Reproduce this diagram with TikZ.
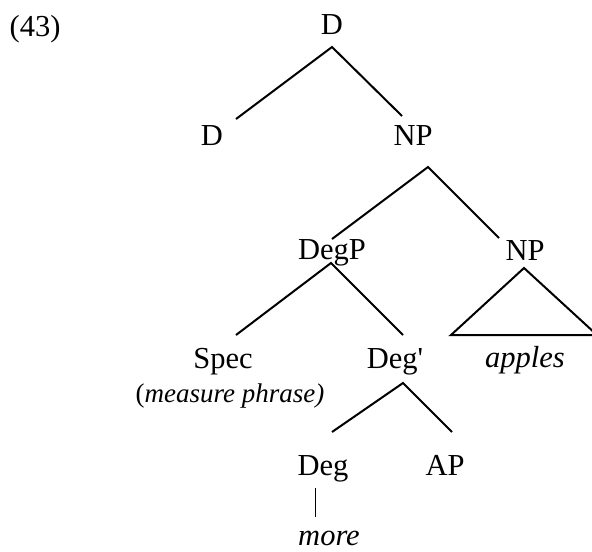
\documentclass[tikz,border=0pt]{standalone}
\usepackage{fontspec}
\setmainfont{Liberation Serif}
\tikzset{
  cat/.style={anchor=base,inner sep=0pt,font=\fontsize{15.25}{18}\selectfont},
  gloss/.style={cat,font=\fontsize{13.5}{16}\selectfont},
  branch/.style={line width=1pt,line join=miter},
}

\begin{document}
\begin{tikzpicture}[x=0.5pt,y=-0.5pt]
\useasboundingbox (0,0) rectangle (592,551);
\node[cat] (ex) at (35,37) {(43)};
% categories
\node[cat] (top) at (332,35) {D};
\node[cat] (dl) at (212,145) {D};
\node[cat] (np1) at (413,145) {NP};
\node[cat] (degp) at (332,259) {DegP};
\node[cat] (np2) at (525,260) {NP};
\node[cat] (spec) at (223,368) {Spec};
\node[gloss] (mp) at (230,402) {(\textit{measure phrase)}};
\node[cat] (degbar) at (395,368) {Deg\textquotesingle};
\node[cat] (apples) at (525,367) {\textit{apples}};
\node[cat] (deg) at (323,475) {Deg};
\node[cat] (ap) at (445,475) {AP};
\node[cat] (more) at (329,545) {\textit{more}};
% branch points
\coordinate (top-b) at (332,47);
\coordinate (dl-t) at (236,119);
\coordinate (np1-t) at (402,116);
\coordinate (np1-b) at (428,167);
\coordinate (degp-t) at (332,239);
\coordinate (np2-t) at (499,238);
\coordinate (degp-b) at (331,263);
\coordinate (spec-t) at (236,335);
\coordinate (degbar-t) at (403,335);
\coordinate (np2-b) at (524,268);
\coordinate (tri-l) at (451,335);
\coordinate (tri-r) at (597,335);
\coordinate (degbar-b) at (403,383);
\coordinate (deg-t) at (332,432);
\coordinate (ap-t) at (452,432);
\coordinate (deg-b) at (315,488);
\coordinate (more-t) at (315,517);
\draw[branch] (dl-t) -- (top-b) -- (np1-t);
\draw[branch] (degp-t) -- (np1-b) -- (np2-t);
\draw[branch] (spec-t) -- (degp-b) -- (degbar-t);
\draw[branch] (np2-b) -- (tri-l) -- (tri-r) -- cycle;
\draw[branch] (deg-t) -- (degbar-b) -- (ap-t);
\draw[line width=0.5pt] (deg-b) -- (more-t);
\end{tikzpicture}
\end{document}
